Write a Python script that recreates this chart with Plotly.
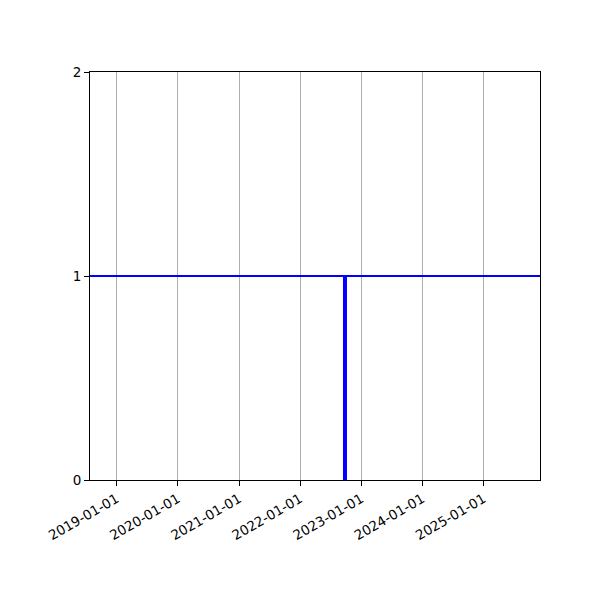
import plotly.graph_objects as go

# Data
x_range = ["2018-07-26", "2025-12-04"]
level_dates = ["2018-07-26", "2025-12-04"]
level_values = [1, 1]
event_dates = ["2022-09-26", "2022-09-26"]
event_values = [0, 1]
tick_dates = ["2019-01-01", "2020-01-01", "2021-01-01", "2022-01-01",
              "2023-01-01", "2024-01-01", "2025-01-01"]
y_ticks = [0, 1, 2]

fig = go.Figure()
fig.add_trace(go.Scatter(x=level_dates, y=level_values, mode="lines",
                         line=dict(color="#0000ff", width=2), showlegend=False))
fig.add_trace(go.Scatter(x=event_dates, y=event_values, mode="lines",
                         line=dict(color="#0000ff", width=4), showlegend=False))

fig.update_layout(
    width=600, height=600,
    margin=dict(l=82, r=68, t=64, b=128, autoexpand=False),
    paper_bgcolor="white", plot_bgcolor="white",
    font=dict(family="DejaVu Sans", size=13.5, color="black"),
    xaxis=dict(
        type="date", range=x_range,
        tickmode="array", tickvals=tick_dates, ticktext=tick_dates,
        tickangle=-30, ticks="outside", ticklen=5, tickcolor="black",
        showgrid=True, gridcolor="#b0b0b0", gridwidth=1,
        showline=True, linecolor="black", linewidth=1, mirror=True,
        zeroline=False,
    ),
    yaxis=dict(
        range=[0, 2], tickmode="array", tickvals=y_ticks,
        ticks="outside", ticklen=5, tickcolor="black",
        showgrid=False, showline=True, linecolor="black", linewidth=1,
        mirror=True, zeroline=False,
    ),
)

fig.write_html("out.html")
